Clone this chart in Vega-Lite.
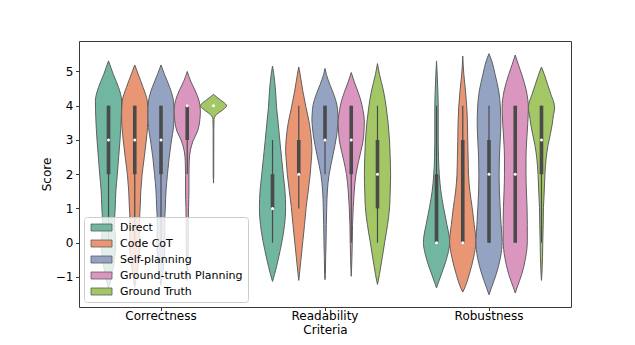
{
  "$schema": "https://vega.github.io/schema/vega-lite/v6.json",
  "width": 492,
  "height": 266,
  "autosize": {"type": "none"},
  "padding": {"left": 79, "top": 41, "right": 64, "bottom": 38},
  "config": {
    "font": "DejaVu Sans",
    "view": {"stroke": "#3a3a3a", "strokeWidth": 1},
    "axis": {"labelFont": "DejaVu Sans", "titleFont": "DejaVu Sans", "labelFontSize": 12, "titleFontSize": 12, "titleFontWeight": "normal", "labelColor": "#000000", "titleColor": "#000000", "tickColor": "#3a3a3a", "tickSize": 3.5, "domain": false, "grid": false},
    "legend": {"orient": "bottom-left", "offset": 5, "labelFont": "DejaVu Sans", "labelFontSize": 11, "labelColor": "#000000", "symbolType": "M-1,-1H5V1H-1Z", "symbolSize": 49, "symbolStrokeColor": "#5a5a5a", "symbolStrokeWidth": 0.8, "symbolOpacity": 1, "fillColor": "rgba(255,255,255,0.8)", "strokeColor": "#cccccc", "cornerRadius": 3, "padding": 5, "rowPadding": 4, "labelOffset": 20}
  },
  "datasets": {
    "violin": [
      {"criteria": "Correctness", "method": "Direct", "score": 5.31, "density": 0},
      {"criteria": "Correctness", "method": "Direct", "score": 4.92, "density": 0.36},
      {"criteria": "Correctness", "method": "Direct", "score": 4.53, "density": 0.77},
      {"criteria": "Correctness", "method": "Direct", "score": 4.14, "density": 1.0},
      {"criteria": "Correctness", "method": "Direct", "score": 3.65, "density": 0.97},
      {"criteria": "Correctness", "method": "Direct", "score": 2.97, "density": 0.87},
      {"criteria": "Correctness", "method": "Direct", "score": 2.48, "density": 0.77},
      {"criteria": "Correctness", "method": "Direct", "score": 1.99, "density": 0.67},
      {"criteria": "Correctness", "method": "Direct", "score": 1.51, "density": 0.56},
      {"criteria": "Correctness", "method": "Direct", "score": 1.02, "density": 0.51},
      {"criteria": "Correctness", "method": "Direct", "score": 0.73, "density": 0.47},
      {"criteria": "Correctness", "method": "Direct", "score": 0.4, "density": 0.48},
      {"criteria": "Correctness", "method": "Direct", "score": 0.0, "density": 0.55},
      {"criteria": "Correctness", "method": "Direct", "score": -0.5, "density": 0.45},
      {"criteria": "Correctness", "method": "Direct", "score": -1.0, "density": 0.22},
      {"criteria": "Correctness", "method": "Direct", "score": -1.35, "density": 0},

      {"criteria": "Correctness", "method": "Code CoT", "score": 5.19, "density": 0},
      {"criteria": "Correctness", "method": "Code CoT", "score": 4.92, "density": 0.26},
      {"criteria": "Correctness", "method": "Code CoT", "score": 4.53, "density": 0.64},
      {"criteria": "Correctness", "method": "Code CoT", "score": 4.14, "density": 0.95},
      {"criteria": "Correctness", "method": "Code CoT", "score": 3.75, "density": 1.0},
      {"criteria": "Correctness", "method": "Code CoT", "score": 3.36, "density": 0.97},
      {"criteria": "Correctness", "method": "Code CoT", "score": 2.97, "density": 0.87},
      {"criteria": "Correctness", "method": "Code CoT", "score": 2.48, "density": 0.72},
      {"criteria": "Correctness", "method": "Code CoT", "score": 1.99, "density": 0.56},
      {"criteria": "Correctness", "method": "Code CoT", "score": 1.51, "density": 0.46},
      {"criteria": "Correctness", "method": "Code CoT", "score": 1.02, "density": 0.41},
      {"criteria": "Correctness", "method": "Code CoT", "score": 0.73, "density": 0.37},
      {"criteria": "Correctness", "method": "Code CoT", "score": 0.35, "density": 0.37},
      {"criteria": "Correctness", "method": "Code CoT", "score": 0.0, "density": 0.4},
      {"criteria": "Correctness", "method": "Code CoT", "score": -0.5, "density": 0.3},
      {"criteria": "Correctness", "method": "Code CoT", "score": -1.0, "density": 0.13},
      {"criteria": "Correctness", "method": "Code CoT", "score": -1.3, "density": 0},

      {"criteria": "Correctness", "method": "Self-planning", "score": 5.19, "density": 0},
      {"criteria": "Correctness", "method": "Self-planning", "score": 4.92, "density": 0.26},
      {"criteria": "Correctness", "method": "Self-planning", "score": 4.53, "density": 0.67},
      {"criteria": "Correctness", "method": "Self-planning", "score": 4.14, "density": 0.95},
      {"criteria": "Correctness", "method": "Self-planning", "score": 3.75, "density": 1.0},
      {"criteria": "Correctness", "method": "Self-planning", "score": 3.36, "density": 0.95},
      {"criteria": "Correctness", "method": "Self-planning", "score": 2.97, "density": 0.79},
      {"criteria": "Correctness", "method": "Self-planning", "score": 2.48, "density": 0.62},
      {"criteria": "Correctness", "method": "Self-planning", "score": 1.99, "density": 0.49},
      {"criteria": "Correctness", "method": "Self-planning", "score": 1.51, "density": 0.38},
      {"criteria": "Correctness", "method": "Self-planning", "score": 1.02, "density": 0.33},
      {"criteria": "Correctness", "method": "Self-planning", "score": 0.73, "density": 0.29},
      {"criteria": "Correctness", "method": "Self-planning", "score": 0.35, "density": 0.29},
      {"criteria": "Correctness", "method": "Self-planning", "score": 0.0, "density": 0.31},
      {"criteria": "Correctness", "method": "Self-planning", "score": -0.5, "density": 0.23},
      {"criteria": "Correctness", "method": "Self-planning", "score": -1.0, "density": 0.1},
      {"criteria": "Correctness", "method": "Self-planning", "score": -1.25, "density": 0},

      {"criteria": "Correctness", "method": "Ground-truth Planning", "score": 5.0, "density": 0},
      {"criteria": "Correctness", "method": "Ground-truth Planning", "score": 4.72, "density": 0.26},
      {"criteria": "Correctness", "method": "Ground-truth Planning", "score": 4.43, "density": 0.62},
      {"criteria": "Correctness", "method": "Ground-truth Planning", "score": 4.14, "density": 0.9},
      {"criteria": "Correctness", "method": "Ground-truth Planning", "score": 3.85, "density": 1.0},
      {"criteria": "Correctness", "method": "Ground-truth Planning", "score": 3.55, "density": 0.95},
      {"criteria": "Correctness", "method": "Ground-truth Planning", "score": 3.26, "density": 0.79},
      {"criteria": "Correctness", "method": "Ground-truth Planning", "score": 2.97, "density": 0.44},
      {"criteria": "Correctness", "method": "Ground-truth Planning", "score": 2.68, "density": 0.23},
      {"criteria": "Correctness", "method": "Ground-truth Planning", "score": 2.38, "density": 0.15},
      {"criteria": "Correctness", "method": "Ground-truth Planning", "score": 1.99, "density": 0.13},
      {"criteria": "Correctness", "method": "Ground-truth Planning", "score": 1.51, "density": 0.13},
      {"criteria": "Correctness", "method": "Ground-truth Planning", "score": 1.02, "density": 0.1},
      {"criteria": "Correctness", "method": "Ground-truth Planning", "score": 0.5, "density": 0.08},
      {"criteria": "Correctness", "method": "Ground-truth Planning", "score": 0.0, "density": 0.08},
      {"criteria": "Correctness", "method": "Ground-truth Planning", "score": -0.5, "density": 0.05},
      {"criteria": "Correctness", "method": "Ground-truth Planning", "score": -0.9, "density": 0.02},
      {"criteria": "Correctness", "method": "Ground-truth Planning", "score": -1.1, "density": 0},

      {"criteria": "Correctness", "method": "Ground Truth", "score": 4.33, "density": 0},
      {"criteria": "Correctness", "method": "Ground Truth", "score": 4.2, "density": 0.42},
      {"criteria": "Correctness", "method": "Ground Truth", "score": 4.1, "density": 0.78},
      {"criteria": "Correctness", "method": "Ground Truth", "score": 4.0, "density": 1.0},
      {"criteria": "Correctness", "method": "Ground Truth", "score": 3.9, "density": 0.78},
      {"criteria": "Correctness", "method": "Ground Truth", "score": 3.8, "density": 0.42},
      {"criteria": "Correctness", "method": "Ground Truth", "score": 3.7, "density": 0.13},
      {"criteria": "Correctness", "method": "Ground Truth", "score": 3.6, "density": 0.04},
      {"criteria": "Correctness", "method": "Ground Truth", "score": 3.3, "density": 0.025},
      {"criteria": "Correctness", "method": "Ground Truth", "score": 3.0, "density": 0.025},
      {"criteria": "Correctness", "method": "Ground Truth", "score": 2.5, "density": 0.02},
      {"criteria": "Correctness", "method": "Ground Truth", "score": 2.0, "density": 0.02},
      {"criteria": "Correctness", "method": "Ground Truth", "score": 1.74, "density": 0},

      {"criteria": "Readability", "method": "Direct", "score": 5.16, "density": 0},
      {"criteria": "Readability", "method": "Direct", "score": 4.92, "density": 0.1},
      {"criteria": "Readability", "method": "Direct", "score": 4.43, "density": 0.23},
      {"criteria": "Readability", "method": "Direct", "score": 3.94, "density": 0.31},
      {"criteria": "Readability", "method": "Direct", "score": 3.46, "density": 0.44},
      {"criteria": "Readability", "method": "Direct", "score": 2.97, "density": 0.56},
      {"criteria": "Readability", "method": "Direct", "score": 2.48, "density": 0.69},
      {"criteria": "Readability", "method": "Direct", "score": 1.99, "density": 0.82},
      {"criteria": "Readability", "method": "Direct", "score": 1.51, "density": 0.95},
      {"criteria": "Readability", "method": "Direct", "score": 1.02, "density": 1.0},
      {"criteria": "Readability", "method": "Direct", "score": 0.53, "density": 0.92},
      {"criteria": "Readability", "method": "Direct", "score": 0.04, "density": 0.72},
      {"criteria": "Readability", "method": "Direct", "score": -0.44, "density": 0.46},
      {"criteria": "Readability", "method": "Direct", "score": -0.93, "density": 0.15},
      {"criteria": "Readability", "method": "Direct", "score": -1.13, "density": 0},

      {"criteria": "Readability", "method": "Code CoT", "score": 5.13, "density": 0},
      {"criteria": "Readability", "method": "Code CoT", "score": 4.92, "density": 0.1},
      {"criteria": "Readability", "method": "Code CoT", "score": 4.43, "density": 0.31},
      {"criteria": "Readability", "method": "Code CoT", "score": 3.94, "density": 0.56},
      {"criteria": "Readability", "method": "Code CoT", "score": 3.46, "density": 0.82},
      {"criteria": "Readability", "method": "Code CoT", "score": 2.97, "density": 0.97},
      {"criteria": "Readability", "method": "Code CoT", "score": 2.7, "density": 1.0},
      {"criteria": "Readability", "method": "Code CoT", "score": 2.48, "density": 0.97},
      {"criteria": "Readability", "method": "Code CoT", "score": 1.99, "density": 0.87},
      {"criteria": "Readability", "method": "Code CoT", "score": 1.51, "density": 0.72},
      {"criteria": "Readability", "method": "Code CoT", "score": 1.02, "density": 0.56},
      {"criteria": "Readability", "method": "Code CoT", "score": 0.53, "density": 0.44},
      {"criteria": "Readability", "method": "Code CoT", "score": 0.04, "density": 0.31},
      {"criteria": "Readability", "method": "Code CoT", "score": -0.44, "density": 0.18},
      {"criteria": "Readability", "method": "Code CoT", "score": -0.93, "density": 0.05},
      {"criteria": "Readability", "method": "Code CoT", "score": -1.1, "density": 0},

      {"criteria": "Readability", "method": "Self-planning", "score": 5.09, "density": 0},
      {"criteria": "Readability", "method": "Self-planning", "score": 4.92, "density": 0.1},
      {"criteria": "Readability", "method": "Self-planning", "score": 4.63, "density": 0.36},
      {"criteria": "Readability", "method": "Self-planning", "score": 4.33, "density": 0.67},
      {"criteria": "Readability", "method": "Self-planning", "score": 4.04, "density": 0.9},
      {"criteria": "Readability", "method": "Self-planning", "score": 3.75, "density": 0.98},
      {"criteria": "Readability", "method": "Self-planning", "score": 3.6, "density": 1.0},
      {"criteria": "Readability", "method": "Self-planning", "score": 3.46, "density": 0.98},
      {"criteria": "Readability", "method": "Self-planning", "score": 3.16, "density": 0.9},
      {"criteria": "Readability", "method": "Self-planning", "score": 2.87, "density": 0.77},
      {"criteria": "Readability", "method": "Self-planning", "score": 2.58, "density": 0.62},
      {"criteria": "Readability", "method": "Self-planning", "score": 2.29, "density": 0.46},
      {"criteria": "Readability", "method": "Self-planning", "score": 1.99, "density": 0.31},
      {"criteria": "Readability", "method": "Self-planning", "score": 1.51, "density": 0.18},
      {"criteria": "Readability", "method": "Self-planning", "score": 1.02, "density": 0.13},
      {"criteria": "Readability", "method": "Self-planning", "score": 0.53, "density": 0.1},
      {"criteria": "Readability", "method": "Self-planning", "score": 0.04, "density": 0.08},
      {"criteria": "Readability", "method": "Self-planning", "score": -0.44, "density": 0.05},
      {"criteria": "Readability", "method": "Self-planning", "score": -0.93, "density": 0.03},
      {"criteria": "Readability", "method": "Self-planning", "score": -1.08, "density": 0},

      {"criteria": "Readability", "method": "Ground-truth Planning", "score": 4.97, "density": 0},
      {"criteria": "Readability", "method": "Ground-truth Planning", "score": 4.72, "density": 0.21},
      {"criteria": "Readability", "method": "Ground-truth Planning", "score": 4.43, "density": 0.49},
      {"criteria": "Readability", "method": "Ground-truth Planning", "score": 4.14, "density": 0.74},
      {"criteria": "Readability", "method": "Ground-truth Planning", "score": 3.85, "density": 0.9},
      {"criteria": "Readability", "method": "Ground-truth Planning", "score": 3.55, "density": 1.0},
      {"criteria": "Readability", "method": "Ground-truth Planning", "score": 3.26, "density": 0.97},
      {"criteria": "Readability", "method": "Ground-truth Planning", "score": 2.97, "density": 0.9},
      {"criteria": "Readability", "method": "Ground-truth Planning", "score": 2.68, "density": 0.74},
      {"criteria": "Readability", "method": "Ground-truth Planning", "score": 2.38, "density": 0.56},
      {"criteria": "Readability", "method": "Ground-truth Planning", "score": 1.99, "density": 0.36},
      {"criteria": "Readability", "method": "Ground-truth Planning", "score": 1.51, "density": 0.23},
      {"criteria": "Readability", "method": "Ground-truth Planning", "score": 1.02, "density": 0.15},
      {"criteria": "Readability", "method": "Ground-truth Planning", "score": 0.53, "density": 0.1},
      {"criteria": "Readability", "method": "Ground-truth Planning", "score": 0.04, "density": 0.08},
      {"criteria": "Readability", "method": "Ground-truth Planning", "score": -0.44, "density": 0.05},
      {"criteria": "Readability", "method": "Ground-truth Planning", "score": -0.8, "density": 0.02},
      {"criteria": "Readability", "method": "Ground-truth Planning", "score": -0.98, "density": 0},

      {"criteria": "Readability", "method": "Ground Truth", "score": 5.23, "density": 0},
      {"criteria": "Readability", "method": "Ground Truth", "score": 4.92, "density": 0.15},
      {"criteria": "Readability", "method": "Ground Truth", "score": 4.43, "density": 0.46},
      {"criteria": "Readability", "method": "Ground Truth", "score": 3.94, "density": 0.67},
      {"criteria": "Readability", "method": "Ground Truth", "score": 3.46, "density": 0.82},
      {"criteria": "Readability", "method": "Ground Truth", "score": 2.97, "density": 0.92},
      {"criteria": "Readability", "method": "Ground Truth", "score": 2.48, "density": 0.97},
      {"criteria": "Readability", "method": "Ground Truth", "score": 1.99, "density": 1.0},
      {"criteria": "Readability", "method": "Ground Truth", "score": 1.51, "density": 0.97},
      {"criteria": "Readability", "method": "Ground Truth", "score": 1.02, "density": 0.92},
      {"criteria": "Readability", "method": "Ground Truth", "score": 0.53, "density": 0.77},
      {"criteria": "Readability", "method": "Ground Truth", "score": 0.04, "density": 0.56},
      {"criteria": "Readability", "method": "Ground Truth", "score": -0.44, "density": 0.36},
      {"criteria": "Readability", "method": "Ground Truth", "score": -0.93, "density": 0.15},
      {"criteria": "Readability", "method": "Ground Truth", "score": -1.22, "density": 0},

      {"criteria": "Robustness", "method": "Direct", "score": 5.31, "density": 0},
      {"criteria": "Robustness", "method": "Direct", "score": 4.92, "density": 0.05},
      {"criteria": "Robustness", "method": "Direct", "score": 4.43, "density": 0.1},
      {"criteria": "Robustness", "method": "Direct", "score": 3.94, "density": 0.13},
      {"criteria": "Robustness", "method": "Direct", "score": 3.46, "density": 0.13},
      {"criteria": "Robustness", "method": "Direct", "score": 2.97, "density": 0.13},
      {"criteria": "Robustness", "method": "Direct", "score": 2.48, "density": 0.15},
      {"criteria": "Robustness", "method": "Direct", "score": 1.99, "density": 0.21},
      {"criteria": "Robustness", "method": "Direct", "score": 1.51, "density": 0.33},
      {"criteria": "Robustness", "method": "Direct", "score": 1.02, "density": 0.54},
      {"criteria": "Robustness", "method": "Direct", "score": 0.53, "density": 0.79},
      {"criteria": "Robustness", "method": "Direct", "score": 0.2, "density": 0.96},
      {"criteria": "Robustness", "method": "Direct", "score": 0.0, "density": 1.0},
      {"criteria": "Robustness", "method": "Direct", "score": -0.35, "density": 0.85},
      {"criteria": "Robustness", "method": "Direct", "score": -0.74, "density": 0.54},
      {"criteria": "Robustness", "method": "Direct", "score": -1.12, "density": 0.18},
      {"criteria": "Robustness", "method": "Direct", "score": -1.32, "density": 0},

      {"criteria": "Robustness", "method": "Code CoT", "score": 5.45, "density": 0},
      {"criteria": "Robustness", "method": "Code CoT", "score": 4.92, "density": 0.08},
      {"criteria": "Robustness", "method": "Code CoT", "score": 4.43, "density": 0.21},
      {"criteria": "Robustness", "method": "Code CoT", "score": 3.94, "density": 0.31},
      {"criteria": "Robustness", "method": "Code CoT", "score": 3.46, "density": 0.36},
      {"criteria": "Robustness", "method": "Code CoT", "score": 2.97, "density": 0.38},
      {"criteria": "Robustness", "method": "Code CoT", "score": 2.48, "density": 0.41},
      {"criteria": "Robustness", "method": "Code CoT", "score": 1.99, "density": 0.44},
      {"criteria": "Robustness", "method": "Code CoT", "score": 1.51, "density": 0.54},
      {"criteria": "Robustness", "method": "Code CoT", "score": 1.02, "density": 0.72},
      {"criteria": "Robustness", "method": "Code CoT", "score": 0.53, "density": 0.87},
      {"criteria": "Robustness", "method": "Code CoT", "score": 0.04, "density": 1.0},
      {"criteria": "Robustness", "method": "Code CoT", "score": -0.44, "density": 0.82},
      {"criteria": "Robustness", "method": "Code CoT", "score": -0.93, "density": 0.49},
      {"criteria": "Robustness", "method": "Code CoT", "score": -1.32, "density": 0.15},
      {"criteria": "Robustness", "method": "Code CoT", "score": -1.44, "density": 0},

      {"criteria": "Robustness", "method": "Self-planning", "score": 5.52, "density": 0},
      {"criteria": "Robustness", "method": "Self-planning", "score": 5.31, "density": 0.21},
      {"criteria": "Robustness", "method": "Self-planning", "score": 4.92, "density": 0.46},
      {"criteria": "Robustness", "method": "Self-planning", "score": 4.43, "density": 0.74},
      {"criteria": "Robustness", "method": "Self-planning", "score": 3.94, "density": 0.87},
      {"criteria": "Robustness", "method": "Self-planning", "score": 3.46, "density": 0.9},
      {"criteria": "Robustness", "method": "Self-planning", "score": 2.97, "density": 0.85},
      {"criteria": "Robustness", "method": "Self-planning", "score": 2.48, "density": 0.79},
      {"criteria": "Robustness", "method": "Self-planning", "score": 1.99, "density": 0.77},
      {"criteria": "Robustness", "method": "Self-planning", "score": 1.51, "density": 0.79},
      {"criteria": "Robustness", "method": "Self-planning", "score": 1.02, "density": 0.85},
      {"criteria": "Robustness", "method": "Self-planning", "score": 0.53, "density": 0.92},
      {"criteria": "Robustness", "method": "Self-planning", "score": 0.04, "density": 1.0},
      {"criteria": "Robustness", "method": "Self-planning", "score": -0.44, "density": 0.87},
      {"criteria": "Robustness", "method": "Self-planning", "score": -0.93, "density": 0.54},
      {"criteria": "Robustness", "method": "Self-planning", "score": -1.32, "density": 0.18},
      {"criteria": "Robustness", "method": "Self-planning", "score": -1.52, "density": 0},

      {"criteria": "Robustness", "method": "Ground-truth Planning", "score": 5.48, "density": 0},
      {"criteria": "Robustness", "method": "Ground-truth Planning", "score": 5.21, "density": 0.23},
      {"criteria": "Robustness", "method": "Ground-truth Planning", "score": 4.92, "density": 0.49},
      {"criteria": "Robustness", "method": "Ground-truth Planning", "score": 4.43, "density": 0.85},
      {"criteria": "Robustness", "method": "Ground-truth Planning", "score": 3.94, "density": 1.0},
      {"criteria": "Robustness", "method": "Ground-truth Planning", "score": 3.46, "density": 0.95},
      {"criteria": "Robustness", "method": "Ground-truth Planning", "score": 2.97, "density": 0.87},
      {"criteria": "Robustness", "method": "Ground-truth Planning", "score": 2.48, "density": 0.82},
      {"criteria": "Robustness", "method": "Ground-truth Planning", "score": 1.99, "density": 0.82},
      {"criteria": "Robustness", "method": "Ground-truth Planning", "score": 1.51, "density": 0.85},
      {"criteria": "Robustness", "method": "Ground-truth Planning", "score": 1.02, "density": 0.9},
      {"criteria": "Robustness", "method": "Ground-truth Planning", "score": 0.53, "density": 0.92},
      {"criteria": "Robustness", "method": "Ground-truth Planning", "score": 0.04, "density": 0.92},
      {"criteria": "Robustness", "method": "Ground-truth Planning", "score": -0.44, "density": 0.79},
      {"criteria": "Robustness", "method": "Ground-truth Planning", "score": -0.93, "density": 0.49},
      {"criteria": "Robustness", "method": "Ground-truth Planning", "score": -1.32, "density": 0.13},
      {"criteria": "Robustness", "method": "Ground-truth Planning", "score": -1.47, "density": 0},

      {"criteria": "Robustness", "method": "Ground Truth", "score": 5.13, "density": 0},
      {"criteria": "Robustness", "method": "Ground Truth", "score": 4.92, "density": 0.21},
      {"criteria": "Robustness", "method": "Ground Truth", "score": 4.63, "density": 0.46},
      {"criteria": "Robustness", "method": "Ground Truth", "score": 4.33, "density": 0.72},
      {"criteria": "Robustness", "method": "Ground Truth", "score": 4.04, "density": 0.97},
      {"criteria": "Robustness", "method": "Ground Truth", "score": 3.9, "density": 1.0},
      {"criteria": "Robustness", "method": "Ground Truth", "score": 3.75, "density": 0.92},
      {"criteria": "Robustness", "method": "Ground Truth", "score": 3.46, "density": 0.82},
      {"criteria": "Robustness", "method": "Ground Truth", "score": 3.16, "density": 0.67},
      {"criteria": "Robustness", "method": "Ground Truth", "score": 2.87, "density": 0.51},
      {"criteria": "Robustness", "method": "Ground Truth", "score": 2.48, "density": 0.36},
      {"criteria": "Robustness", "method": "Ground Truth", "score": 1.99, "density": 0.26},
      {"criteria": "Robustness", "method": "Ground Truth", "score": 1.51, "density": 0.21},
      {"criteria": "Robustness", "method": "Ground Truth", "score": 1.02, "density": 0.15},
      {"criteria": "Robustness", "method": "Ground Truth", "score": 0.53, "density": 0.13},
      {"criteria": "Robustness", "method": "Ground Truth", "score": 0.04, "density": 0.1},
      {"criteria": "Robustness", "method": "Ground Truth", "score": -0.44, "density": 0.08},
      {"criteria": "Robustness", "method": "Ground Truth", "score": -0.93, "density": 0.03},
      {"criteria": "Robustness", "method": "Ground Truth", "score": -1.1, "density": 0}
    ],
    "box": [
      {"criteria": "Correctness", "method": "Direct", "lo": 0, "q1": 2, "median": 3, "q3": 4, "hi": 4},
      {"criteria": "Correctness", "method": "Code CoT", "lo": 0, "q1": 2, "median": 3, "q3": 4, "hi": 4},
      {"criteria": "Correctness", "method": "Self-planning", "lo": 0, "q1": 2, "median": 3, "q3": 4, "hi": 4},
      {"criteria": "Correctness", "method": "Ground-truth Planning", "lo": 2, "q1": 3, "median": 4, "q3": 4, "hi": 4},
      {"criteria": "Correctness", "method": "Ground Truth", "lo": 4, "q1": 4, "median": 4, "q3": 4, "hi": 4},
      {"criteria": "Readability", "method": "Direct", "lo": 0, "q1": 1, "median": 1, "q3": 2, "hi": 3},
      {"criteria": "Readability", "method": "Code CoT", "lo": 1, "q1": 2, "median": 2, "q3": 3, "hi": 4},
      {"criteria": "Readability", "method": "Self-planning", "lo": 2, "q1": 3, "median": 3, "q3": 4, "hi": 4},
      {"criteria": "Readability", "method": "Ground-truth Planning", "lo": 0, "q1": 2, "median": 3, "q3": 4, "hi": 4},
      {"criteria": "Readability", "method": "Ground Truth", "lo": 0, "q1": 1, "median": 2, "q3": 3, "hi": 4},
      {"criteria": "Robustness", "method": "Direct", "lo": 0, "q1": 0, "median": 0, "q3": 2, "hi": 4},
      {"criteria": "Robustness", "method": "Code CoT", "lo": 0, "q1": 0, "median": 0, "q3": 3, "hi": 4},
      {"criteria": "Robustness", "method": "Self-planning", "lo": 0, "q1": 0, "median": 2, "q3": 3, "hi": 4},
      {"criteria": "Robustness", "method": "Ground-truth Planning", "lo": 0, "q1": 0, "median": 2, "q3": 4, "hi": 4},
      {"criteria": "Robustness", "method": "Ground Truth", "lo": 0, "q1": 2, "median": 3, "q3": 4, "hi": 4}
    ]
  },
  "encoding": {
    "y": {"field": "score", "type": "quantitative", "title": "Score", "scale": {"domain": [-1.877, 5.89], "nice": false, "zero": false}, "axis": {"values": [-1, 0, 1, 2, 3, 4, 5], "labelPadding": 2.5, "titlePadding": 2}},
    "color": {"field": "method", "type": "nominal", "title": null, "scale": {"domain": ["Direct", "Code CoT", "Self-planning", "Ground-truth Planning", "Ground Truth"], "range": ["#71b6a1", "#e99675", "#95a3c3", "#db96c0", "#a2c764"]}}
  },
  "resolve": {"scale": {"x": "independent"}},
  "layer": [
    {"data": {"name": "violin"}, "transform": [{"filter": "datum.criteria==='Correctness' && datum.method==='Direct'"}], "mark": {"type": "area", "orient": "horizontal", "interpolate": "monotone", "stroke": "#5f5f5f", "strokeWidth": 1, "opacity": 1}, "encoding": {"x": {"field": "density", "type": "quantitative", "stack": "center", "scale": {"domain": [-0.625, 18.125], "nice": false, "zero": false}, "axis": null}}},
    {"data": {"name": "violin"}, "transform": [{"filter": "datum.criteria==='Correctness' && datum.method==='Code CoT'"}], "mark": {"type": "area", "orient": "horizontal", "interpolate": "monotone", "stroke": "#5f5f5f", "strokeWidth": 1, "opacity": 1}, "encoding": {"x": {"field": "density", "type": "quantitative", "stack": "center", "scale": {"domain": [-1.625, 17.125], "nice": false, "zero": false}, "axis": null}}},
    {"data": {"name": "violin"}, "transform": [{"filter": "datum.criteria==='Correctness' && datum.method==='Self-planning'"}], "mark": {"type": "area", "orient": "horizontal", "interpolate": "monotone", "stroke": "#5f5f5f", "strokeWidth": 1, "opacity": 1}, "encoding": {"x": {"field": "density", "type": "quantitative", "stack": "center", "scale": {"domain": [-2.625, 16.125], "nice": false, "zero": false}, "axis": null}}},
    {"data": {"name": "violin"}, "transform": [{"filter": "datum.criteria==='Correctness' && datum.method==='Ground-truth Planning'"}], "mark": {"type": "area", "orient": "horizontal", "interpolate": "monotone", "stroke": "#5f5f5f", "strokeWidth": 1, "opacity": 1}, "encoding": {"x": {"field": "density", "type": "quantitative", "stack": "center", "scale": {"domain": [-3.625, 15.125], "nice": false, "zero": false}, "axis": null}}},
    {"data": {"name": "violin"}, "transform": [{"filter": "datum.criteria==='Correctness' && datum.method==='Ground Truth'"}], "mark": {"type": "area", "orient": "horizontal", "interpolate": "monotone", "stroke": "#5f5f5f", "strokeWidth": 1, "opacity": 1}, "encoding": {"x": {"field": "density", "type": "quantitative", "stack": "center", "scale": {"domain": [-4.625, 14.125], "nice": false, "zero": false}, "axis": null}}},
    {"data": {"name": "violin"}, "transform": [{"filter": "datum.criteria==='Readability' && datum.method==='Direct'"}], "mark": {"type": "area", "orient": "horizontal", "interpolate": "monotone", "stroke": "#5f5f5f", "strokeWidth": 1, "opacity": 1}, "encoding": {"x": {"field": "density", "type": "quantitative", "stack": "center", "scale": {"domain": [-6.875, 11.875], "nice": false, "zero": false}, "axis": null}}},
    {"data": {"name": "violin"}, "transform": [{"filter": "datum.criteria==='Readability' && datum.method==='Code CoT'"}], "mark": {"type": "area", "orient": "horizontal", "interpolate": "monotone", "stroke": "#5f5f5f", "strokeWidth": 1, "opacity": 1}, "encoding": {"x": {"field": "density", "type": "quantitative", "stack": "center", "scale": {"domain": [-7.875, 10.875], "nice": false, "zero": false}, "axis": null}}},
    {"data": {"name": "violin"}, "transform": [{"filter": "datum.criteria==='Readability' && datum.method==='Self-planning'"}], "mark": {"type": "area", "orient": "horizontal", "interpolate": "monotone", "stroke": "#5f5f5f", "strokeWidth": 1, "opacity": 1}, "encoding": {"x": {"field": "density", "type": "quantitative", "stack": "center", "scale": {"domain": [-8.875, 9.875], "nice": false, "zero": false}, "axis": null}}},
    {"data": {"name": "violin"}, "transform": [{"filter": "datum.criteria==='Readability' && datum.method==='Ground-truth Planning'"}], "mark": {"type": "area", "orient": "horizontal", "interpolate": "monotone", "stroke": "#5f5f5f", "strokeWidth": 1, "opacity": 1}, "encoding": {"x": {"field": "density", "type": "quantitative", "stack": "center", "scale": {"domain": [-9.875, 8.875], "nice": false, "zero": false}, "axis": null}}},
    {"data": {"name": "violin"}, "transform": [{"filter": "datum.criteria==='Readability' && datum.method==='Ground Truth'"}], "mark": {"type": "area", "orient": "horizontal", "interpolate": "monotone", "stroke": "#5f5f5f", "strokeWidth": 1, "opacity": 1}, "encoding": {"x": {"field": "density", "type": "quantitative", "stack": "center", "scale": {"domain": [-10.875, 7.875], "nice": false, "zero": false}, "axis": null}}},
    {"data": {"name": "violin"}, "transform": [{"filter": "datum.criteria==='Robustness' && datum.method==='Direct'"}], "mark": {"type": "area", "orient": "horizontal", "interpolate": "monotone", "stroke": "#5f5f5f", "strokeWidth": 1, "opacity": 1}, "encoding": {"x": {"field": "density", "type": "quantitative", "stack": "center", "scale": {"domain": [-13.125, 5.625], "nice": false, "zero": false}, "axis": null}}},
    {"data": {"name": "violin"}, "transform": [{"filter": "datum.criteria==='Robustness' && datum.method==='Code CoT'"}], "mark": {"type": "area", "orient": "horizontal", "interpolate": "monotone", "stroke": "#5f5f5f", "strokeWidth": 1, "opacity": 1}, "encoding": {"x": {"field": "density", "type": "quantitative", "stack": "center", "scale": {"domain": [-14.125, 4.625], "nice": false, "zero": false}, "axis": null}}},
    {"data": {"name": "violin"}, "transform": [{"filter": "datum.criteria==='Robustness' && datum.method==='Self-planning'"}], "mark": {"type": "area", "orient": "horizontal", "interpolate": "monotone", "stroke": "#5f5f5f", "strokeWidth": 1, "opacity": 1}, "encoding": {"x": {"field": "density", "type": "quantitative", "stack": "center", "scale": {"domain": [-15.125, 3.625], "nice": false, "zero": false}, "axis": null}}},
    {"data": {"name": "violin"}, "transform": [{"filter": "datum.criteria==='Robustness' && datum.method==='Ground-truth Planning'"}], "mark": {"type": "area", "orient": "horizontal", "interpolate": "monotone", "stroke": "#5f5f5f", "strokeWidth": 1, "opacity": 1}, "encoding": {"x": {"field": "density", "type": "quantitative", "stack": "center", "scale": {"domain": [-16.125, 2.625], "nice": false, "zero": false}, "axis": null}}},
    {"data": {"name": "violin"}, "transform": [{"filter": "datum.criteria==='Robustness' && datum.method==='Ground Truth'"}], "mark": {"type": "area", "orient": "horizontal", "interpolate": "monotone", "stroke": "#5f5f5f", "strokeWidth": 1, "opacity": 1}, "encoding": {"x": {"field": "density", "type": "quantitative", "stack": "center", "scale": {"domain": [-17.125, 1.625], "nice": false, "zero": false}, "axis": null}}},
    {
      "data": {"name": "box"},
      "encoding": {
        "x": {"field": "criteria", "type": "nominal", "sort": ["Correctness", "Readability", "Robustness"], "scale": {"type": "band", "paddingInner": 0, "paddingOuter": 0}, "axis": {"title": "Criteria", "labelAngle": 0, "bandPosition": 0.5, "labelPadding": 0, "titlePadding": 3}},
        "xOffset": {"field": "method", "type": "nominal", "sort": ["Direct", "Code CoT", "Self-planning", "Ground-truth Planning", "Ground Truth"], "scale": {"paddingInner": 0, "paddingOuter": 0.625}},
        "color": {"value": "#4a4a4a"}
      },
      "layer": [
        {"mark": {"type": "rule", "strokeWidth": 1.2}, "encoding": {"y": {"field": "lo", "type": "quantitative", "title": "Score"}, "y2": {"field": "hi"}}},
        {"mark": {"type": "rule", "strokeWidth": 3.6, "strokeCap": "butt"}, "encoding": {"y": {"field": "q1", "type": "quantitative", "title": "Score"}, "y2": {"field": "q3"}}},
        {"mark": {"type": "point", "filled": true, "size": 9, "opacity": 1}, "encoding": {"y": {"field": "median", "type": "quantitative", "title": "Score"}, "color": {"value": "white"}}}
      ]
    }
  ]
}
